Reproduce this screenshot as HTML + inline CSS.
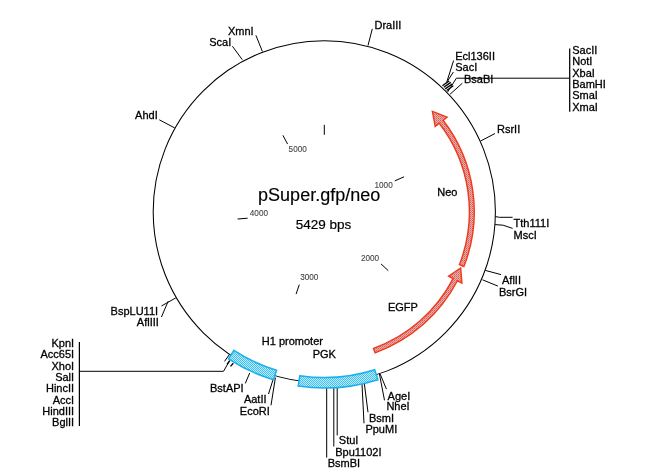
<!DOCTYPE html>
<html><head><meta charset="utf-8"><style>
html,body{margin:0;padding:0;background:#fff;width:660px;height:476px;overflow:hidden}
svg{display:block;will-change:transform}
text{font-family:"Liberation Sans",sans-serif}
</style></head><body>
<svg width="660" height="476" viewBox="0 0 660 476" font-family="Liberation Sans, sans-serif"><defs>
<pattern id="cy" width="2" height="2" patternUnits="userSpaceOnUse">
<rect width="2" height="2" fill="#c0eafa"/><rect width="1" height="1" fill="#40c0f0"/><rect x="1" y="1" width="1" height="1" fill="#40c0f0"/>
</pattern>
<pattern id="rd" width="2" height="2" patternUnits="userSpaceOnUse">
<rect width="2" height="2" fill="#f0aca4"/><rect width="1" height="1" fill="#ea5a48"/><rect x="1" y="1" width="1" height="1" fill="#c08898"/>
</pattern>
</defs>
<circle cx="324.3" cy="211.8" r="171.1" fill="none" stroke="#000" stroke-width="1.05"/>
<line x1="324.3" y1="134.8" x2="324.3" y2="124.8" stroke="#000" stroke-width="1"/>
<line x1="394.8" y1="180.9" x2="404.0" y2="176.8" stroke="#000" stroke-width="1"/>
<line x1="381.0" y1="263.9" x2="388.3" y2="270.7" stroke="#000" stroke-width="1"/>
<line x1="299.3" y1="284.6" x2="296.1" y2="294.1" stroke="#000" stroke-width="1"/>
<line x1="247.6" y1="218.2" x2="237.6" y2="219.0" stroke="#000" stroke-width="1"/>
<line x1="287.6" y1="144.1" x2="282.9" y2="135.3" stroke="#000" stroke-width="1"/>
<polyline points="255.9,35.3 262.4,51.5" fill="none" stroke="#000" stroke-width="1"/>
<polyline points="232.4,46.2 242.3,59.7" fill="none" stroke="#000" stroke-width="1"/>
<polyline points="372.3,28.8 368.0,45.5" fill="none" stroke="#000" stroke-width="1"/>
<polyline points="159.3,119.8 174.8,128.0" fill="none" stroke="#000" stroke-width="1"/>
<polyline points="480.6,141.0 495.0,133.5" fill="none" stroke="#000" stroke-width="1"/>
<polyline points="495.3,216.6 499.5,217.3 512.6,217.3" fill="none" stroke="#000" stroke-width="1"/>
<polyline points="495.1,224.6 503.1,225.2 512.6,228.4" fill="none" stroke="#000" stroke-width="1"/>
<polyline points="485.3,270.4 501.0,274.6" fill="none" stroke="#000" stroke-width="1"/>
<polyline points="482.5,279.8 497.9,286.1" fill="none" stroke="#000" stroke-width="1"/>
<polyline points="380.1,373.9 386.4,389.0" fill="none" stroke="#000" stroke-width="1"/>
<polyline points="379.4,373.9 384.5,400.3" fill="none" stroke="#000" stroke-width="1"/>
<polyline points="364.4,384.0 368.0,412.3" fill="none" stroke="#000" stroke-width="1"/>
<polyline points="362.0,384.0 364.0,423.3" fill="none" stroke="#000" stroke-width="1"/>
<polyline points="337.2,386.0 337.2,435.4" fill="none" stroke="#000" stroke-width="1"/>
<polyline points="333.8,386.0 333.8,446.5" fill="none" stroke="#000" stroke-width="1"/>
<polyline points="326.7,386.0 326.7,457.6" fill="none" stroke="#000" stroke-width="1"/>
<polyline points="275.4,377.6 271.0,405.3" fill="none" stroke="#000" stroke-width="1"/>
<polyline points="272.9,380.1 268.5,394.0" fill="none" stroke="#000" stroke-width="1"/>
<polyline points="249.7,373.0 245.3,383.4" fill="none" stroke="#000" stroke-width="1"/>
<polyline points="175.8,297.9 161.4,306.0" fill="none" stroke="#000" stroke-width="1"/>
<polyline points="168.2,301.2 161.4,317.1" fill="none" stroke="#000" stroke-width="1"/>
<polyline points="446.8,81.9 453.6,60.5" fill="none" stroke="#000" stroke-width="1"/>
<polyline points="447.9,80.5 453.4,72.0" fill="none" stroke="#000" stroke-width="1"/>
<polyline points="450.1,94.2 462.4,83.2" fill="none" stroke="#000" stroke-width="1"/>
<polyline points="447.6,92.0 456.4,78.2 569.7,78.2" fill="none" stroke="#000" stroke-width="1"/>
<polyline points="442.4,85.7 449.2,80.9" fill="none" stroke="#000" stroke-width="1.3"/>
<polyline points="443.8,87.3 450.8,82.4" fill="none" stroke="#000" stroke-width="1.3"/>
<polyline points="445.2,88.9 452.2,84.0" fill="none" stroke="#000" stroke-width="1.3"/>
<polyline points="446.6,90.5 453.3,85.8" fill="none" stroke="#000" stroke-width="1.3"/>
<polyline points="224.5,361.4 229.2,354.8" fill="none" stroke="#000" stroke-width="1"/>
<polyline points="227.0,364.3 229.8,360.5" fill="none" stroke="#000" stroke-width="1.3"/>
<polyline points="230.5,366.4 233.3,363.2" fill="none" stroke="#000" stroke-width="1.3"/>
<polyline points="569.7,48.4 569.7,111.8" fill="none" stroke="#000" stroke-width="1.25"/>
<polyline points="229.0,361.8 223.5,371.3 79.4,371.3" fill="none" stroke="#000" stroke-width="1"/>
<polyline points="79.4,342.0 79.4,426.0" fill="none" stroke="#000" stroke-width="1.25"/>
<path d="M273.6,379.8 A175.5,175.5 0 0 1 228.5,358.8 L233.9,350.4 A165.5,165.5 0 0 0 276.5,370.2 Z" fill="url(#cy)" stroke="#18b0ec" stroke-width="1.5"/>
<path d="M377.9,379.7 A176.25,176.25 0 0 1 298.2,386.1 L299.8,375.7 A165.75,165.75 0 0 0 374.7,369.7 Z" fill="url(#cy)" stroke="#18b0ec" stroke-width="1.5"/>
<path d="M463.9,266.5 A149.9,149.9 0 0 0 443.1,120.3 L447.1,117.2 L432.4,111.4 L435.2,126.4 L439.3,123.3 A145.1,145.1 0 0 1 459.4,264.7 Z" fill="url(#rd)" stroke="#f0381a" stroke-width="1.4" stroke-linejoin="miter"/>
<path d="M375.1,352.8 A149.9,149.9 0 0 0 457.4,280.8 L461.9,283.1 L460.7,268.0 L448.6,276.2 L453.1,278.6 A145.1,145.1 0 0 1 373.5,348.3 Z" fill="url(#rd)" stroke="#f0381a" stroke-width="1.4" stroke-linejoin="miter"/>
<g font-size="11" fill="#000" stroke="#000" stroke-width="0.3"><text x="227.9" y="34.5">XmnI</text><text x="209.2" y="45.8">ScaI</text><text x="374.5" y="28.8">DraIII</text><text x="455.2" y="60">Ecl136II</text><text x="455.2" y="71.4">SacI</text><text x="464" y="82.9">BsaBI</text><text x="497" y="133">RsrII</text><text x="513.6" y="227.3">Tth111I</text><text x="513.6" y="238.9">MscI</text><text x="502" y="283.6">AflII</text><text x="498.9" y="295.6">BsrGI</text><text x="387.6" y="399.5">AgeI</text><text x="386.4" y="409.8">NheI</text><text x="369" y="421.9">BsmI</text><text x="365.4" y="433.4">PpuMI</text><text x="338.8" y="444.1">StuI</text><text x="335.2" y="456.2">Bpu1102I</text><text x="327.7" y="466.7">BsmBI</text><text x="239.8" y="414.8">EcoRI</text><text x="243.9" y="403.4">AatII</text><text x="210" y="392.3">BstAPI</text><text x="136.8" y="326.2">AflIII</text><text x="110.6" y="314.8">BspLU11I</text><text x="135.1" y="119.2">AhdI</text><text x="437.3" y="195.6">Neo</text><text x="387.9" y="311">EGFP</text><text x="261.8" y="344.5">H1 promoter</text><text x="312.7" y="358.2">PGK</text><text x="572.2" y="53.8">SacII</text><text x="572.2" y="65.14999999999999">NotI</text><text x="572.2" y="76.5">XbaI</text><text x="572.2" y="87.85">BamHI</text><text x="572.2" y="99.19999999999999">SmaI</text><text x="572.2" y="110.55">XmaI</text><text x="74.1" y="346.8" text-anchor="end">KpnI</text><text x="74.1" y="358.2" text-anchor="end">Acc65I</text><text x="74.1" y="369.5" text-anchor="end">XhoI</text><text x="74.1" y="380.9" text-anchor="end">SalI</text><text x="74.1" y="392.2" text-anchor="end">HincII</text><text x="74.1" y="403.6" text-anchor="end">AccI</text><text x="74.1" y="414.9" text-anchor="end">HindIII</text><text x="74.1" y="426.2" text-anchor="end">BglII</text></g>
<text x="258.1" y="201.2" font-size="18" fill="#000" stroke="#000" stroke-width="0.15">pSuper.gfp/neo</text>
<text x="295.8" y="228.6" font-size="13.5" fill="#000" stroke="#000" stroke-width="0.2">5429 bps</text>
<g font-size="8.2" fill="#444" stroke="#444" stroke-width="0.1"><text x="288.6" y="152.4">5000</text><text x="374.5" y="187.5">1000</text><text x="360.9" y="260.5">2000</text><text x="300.2" y="280">3000</text><text x="249.8" y="215.7">4000</text></g></svg>
</body></html>
